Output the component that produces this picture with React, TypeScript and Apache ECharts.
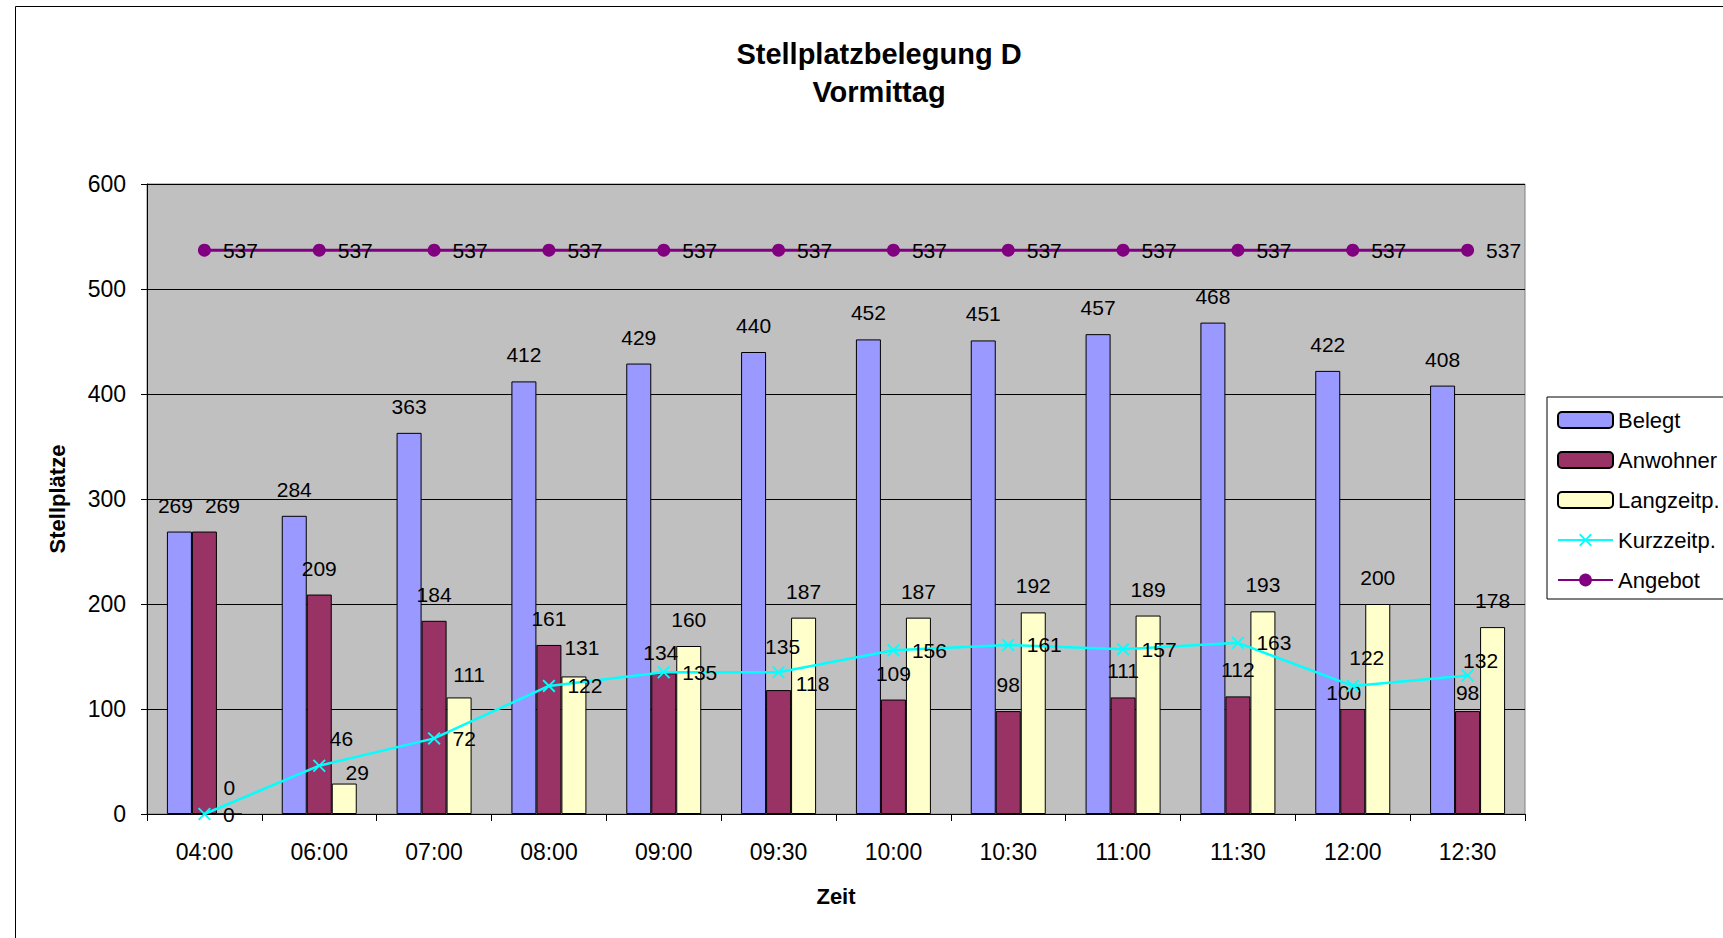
import React, { useEffect, useRef } from "react";
import * as echarts from "echarts";

const categories = ["04:00", "06:00", "07:00", "08:00", "09:00", "09:30", "10:00", "10:30", "11:00", "11:30", "12:00", "12:30"];
const belegt = [269, 284, 363, 412, 429, 440, 452, 451, 457, 468, 422, 408];
const anwohner = [269, 209, 184, 161, 134, 118, 109, 98, 111, 112, 100, 98];
const langzeitp = [0, 29, 111, 131, 160, 187, 187, 192, 189, 193, 200, 178];
const kurzzeitp = [0, 46, 72, 122, 135, 135, 156, 161, 157, 163, 122, 132];
const angebot = [537, 537, 537, 537, 537, 537, 537, 537, 537, 537, 537, 537];
const yTicks = { min: 0, max: 600, interval: 100 };

// label nudges (style only)
const belegtLabelOffsets: Record<number, number[]> = { 0: [-4, 0] };
const anwohnerLabelOffsets: Record<number, number[]> = { 0: [18, 0], 4: [-3, 6], 5: [34, 20], 10: [-9, 10], 11: [0, 8] };
const langLabelOffsets: Record<number, number[]> = { 1: [13, 15], 2: [10, 4], 3: [8, -2] };
const kurzLabelOffsets: Record<number, number[]> = { 1: [-8, -27], 5: [-32, -26], 10: [-22, -28], 11: [-23, -15] };

const FONT = '"Liberation Sans", Arial, sans-serif';

function withOffsets(values: number[], offsets: Record<number, number[]>) {
  return values.map((v, i) => (offsets[i] ? { value: v, label: { offset: offsets[i] } } : { value: v }));
}

const X_SYMBOL = "path://M1,0 L5,4 L9,0 L10,1 L6,5 L10,9 L9,10 L5,6 L1,10 L0,9 L4,5 L0,1 Z";

export default function App() {
  const ref = useRef<HTMLDivElement>(null);
  useEffect(() => {
    if (!ref.current) return;
    const chart = echarts.init(ref.current, null, { renderer: "svg" });
    const barLabel = { show: true, position: "top", distance: 16, fontSize: 21, color: "#000", fontFamily: FONT };
    const option: any = {
      animation: false,
      backgroundColor: "#fff",
      textStyle: { fontFamily: FONT },
      graphic: [
        {
          type: "rect",
          z: -10,
          shape: { x: 15.5, y: 6.5, width: 1800, height: 1000 },
          style: { fill: "none", stroke: "#000", lineWidth: 1 },
        },
        {
          type: "text",
          x: 879,
          y: 54,
          style: { text: "Stellplatzbelegung D", fontSize: 29, fontWeight: "bold", fontFamily: FONT, fill: "#000", align: "center", verticalAlign: "middle" },
        },
        {
          type: "text",
          x: 879,
          y: 92,
          style: { text: "Vormittag", fontSize: 29, fontWeight: "bold", fontFamily: FONT, fill: "#000", align: "center", verticalAlign: "middle" },
        },
      ],
      legend: {
        orient: "vertical",
        left: 1547,
        top: 397,
        padding: [12, 10, 8, 10],
        itemWidth: 55,
        itemHeight: 16,
        itemGap: 18,
        borderColor: "#000",
        borderWidth: 1,
        backgroundColor: "#fff",
        textStyle: { fontSize: 22, color: "#000", fontFamily: FONT },
        data: ["Belegt", "Anwohner", "Langzeitp.", "Kurzzeitp.", "Angebot"],
      },
      grid: {
        left: 147,
        top: 184,
        right: 198,
        bottom: 124,
        show: true,
        backgroundColor: "#C0C0C0",
        borderColor: "#808080",
        borderWidth: 1,
        containLabel: false,
      },
      xAxis: {
        type: "category",
        data: categories,
        boundaryGap: true,
        name: "Zeit",
        nameLocation: "middle",
        nameGap: 71,
        nameTextStyle: { fontSize: 22, fontWeight: "bold", color: "#000", fontFamily: FONT },
        axisLine: { show: true, lineStyle: { color: "#000", width: 1 } },
        axisTick: { show: true, alignWithLabel: false, interval: 0, length: 7, lineStyle: { color: "#000" } },
        axisLabel: { interval: 0, fontSize: 23, color: "#000", margin: 26, fontFamily: FONT },
        splitLine: { show: false },
      },
      yAxis: {
        type: "value",
        min: yTicks.min,
        max: yTicks.max,
        interval: yTicks.interval,
        name: "Stellplätze",
        nameLocation: "middle",
        nameRotate: 90,
        nameGap: 79,
        nameTextStyle: { fontSize: 22, fontWeight: "bold", color: "#000", fontFamily: FONT },
        axisLine: { show: true, lineStyle: { color: "#000", width: 1 } },
        axisTick: { show: true, length: 6, lineStyle: { color: "#000" } },
        axisLabel: { fontSize: 23, color: "#000", margin: 21, fontFamily: FONT },
        splitLine: { show: true, lineStyle: { color: "#000", width: 1 } },
      },
      series: [
        {
          name: "Belegt",
          type: "bar",
          data: withOffsets(belegt, belegtLabelOffsets),
          barWidth: 25,
          barGap: "0%",
          itemStyle: { color: "#9999FF", borderColor: "#000", borderWidth: 1 },
          label: barLabel,
        },
        {
          name: "Anwohner",
          type: "bar",
          data: withOffsets(anwohner, anwohnerLabelOffsets),
          barWidth: 25,
          barGap: "0%",
          itemStyle: { color: "#993366", borderColor: "#000", borderWidth: 1 },
          label: barLabel,
        },
        {
          name: "Langzeitp.",
          type: "bar",
          data: withOffsets(langzeitp, langLabelOffsets),
          barWidth: 25,
          barGap: "0%",
          itemStyle: { color: "#FFFFCC", borderColor: "#000", borderWidth: 1 },
          label: barLabel,
        },
        {
          name: "Kurzzeitp.",
          type: "line",
          data: withOffsets(kurzzeitp, kurzLabelOffsets),
          symbol: X_SYMBOL,
          symbolSize: 13,
          showAllSymbol: true,
          lineStyle: { color: "#00FFFF", width: 2.5 },
          itemStyle: { color: "#00FFFF" },
          label: { show: true, position: "right", distance: 12, fontSize: 21, color: "#000", fontFamily: FONT },
          z: 5,
        },
        {
          name: "Angebot",
          type: "line",
          data: angebot,
          symbol: "circle",
          symbolSize: 13,
          showAllSymbol: true,
          lineStyle: { color: "#800080", width: 3 },
          itemStyle: { color: "#800080" },
          label: { show: true, position: "right", distance: 12, fontSize: 21, color: "#000", fontFamily: FONT },
          z: 5,
        },
      ],
    };
    chart.setOption(option);
    return () => chart.dispose();
  }, []);
  return <div ref={ref} style={{ position: "fixed", left: 0, top: 0, width: 1723, height: 938 }} />;
}
